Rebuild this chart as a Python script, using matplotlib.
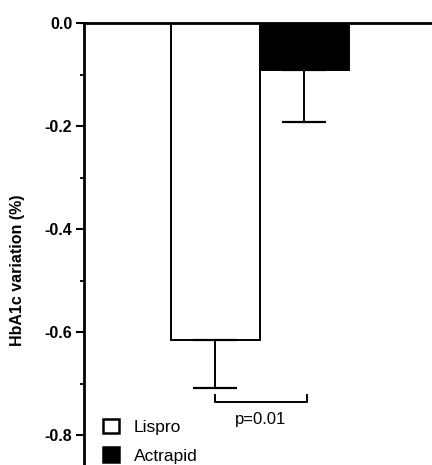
import matplotlib
matplotlib.use("Agg")
import matplotlib.pyplot as plt
from matplotlib.patches import Patch
from matplotlib.ticker import MultipleLocator

plt.rcParams['font.family'] = ['Liberation Sans', 'DejaVu Sans']

categories = ["Lispro", "Actrapid"]
values = [-0.616, -0.091]
errors = [0.093, 0.101]
colors = ["white", "black"]
p_text = "p=0.01"
ylabel = "HbA1c variation (%)"

W, H = 432, 465
fig = plt.figure(figsize=(W / 100, H / 100), dpi=100)
ax = fig.add_axes([84 / W, 0, 1 - 84 / W, 1 - 23 / H])

x = [0, 1]
ax.bar(x, values, width=1.0, color=colors, edgecolor="black", linewidth=1.4, zorder=2)
for xi, v, e in zip(x, values, errors):
    ax.errorbar(xi, v, yerr=[[e], [0]], fmt="none", ecolor="black",
                elinewidth=1.4, capsize=15.5, capthick=1.6, zorder=3)

ax.set_ylim(-0.858, 0)
ax.set_xlim(-1.472, 2.438)

for s in ["right", "bottom"]:
    ax.spines[s].set_visible(False)
ax.spines["left"].set_linewidth(2)
ax.spines["top"].set_linewidth(2)
ax.xaxis.set_visible(False)
ax.yaxis.set_major_locator(MultipleLocator(0.2))
ax.yaxis.set_minor_locator(MultipleLocator(0.1))
ax.tick_params(axis="y", which="major", direction="out", length=6, width=1.5,
               labelsize=11.5, pad=2.5)
ax.tick_params(axis="y", which="minor", direction="out", length=3, width=1.3)
ax.set_yticks([0.0, -0.2, -0.4, -0.6, -0.8])
ax.set_yticklabels(["0.0", "-0.2", "-0.4", "-0.6", "-0.8"], fontweight="bold")

fig.text(18 / W, 1 - 270 / H, ylabel, rotation=90, ha="center", va="center",
         fontsize=11.5, fontweight="bold")

# significance bracket
ax.plot([0, 0, 1.03, 1.03], [-0.722, -0.736, -0.736, -0.722], color="black", lw=1.4,
        clip_on=False)
ax.text(0.515, -0.769, p_text, ha="center", va="center", fontsize=12)

handles = [Patch(facecolor=c, edgecolor="black", linewidth=1.8) for c in colors]
ax.legend(handles, categories, loc="lower left", bbox_to_anchor=(100 / W, -2 / H),
          bbox_transform=fig.transFigure, frameon=False, fontsize=12.5,
          handlelength=0.9, handleheight=0.9, handletextpad=0.85, labelspacing=0.7,
          borderpad=0.2, borderaxespad=0.0)

fig.savefig("out.png", dpi=100)
